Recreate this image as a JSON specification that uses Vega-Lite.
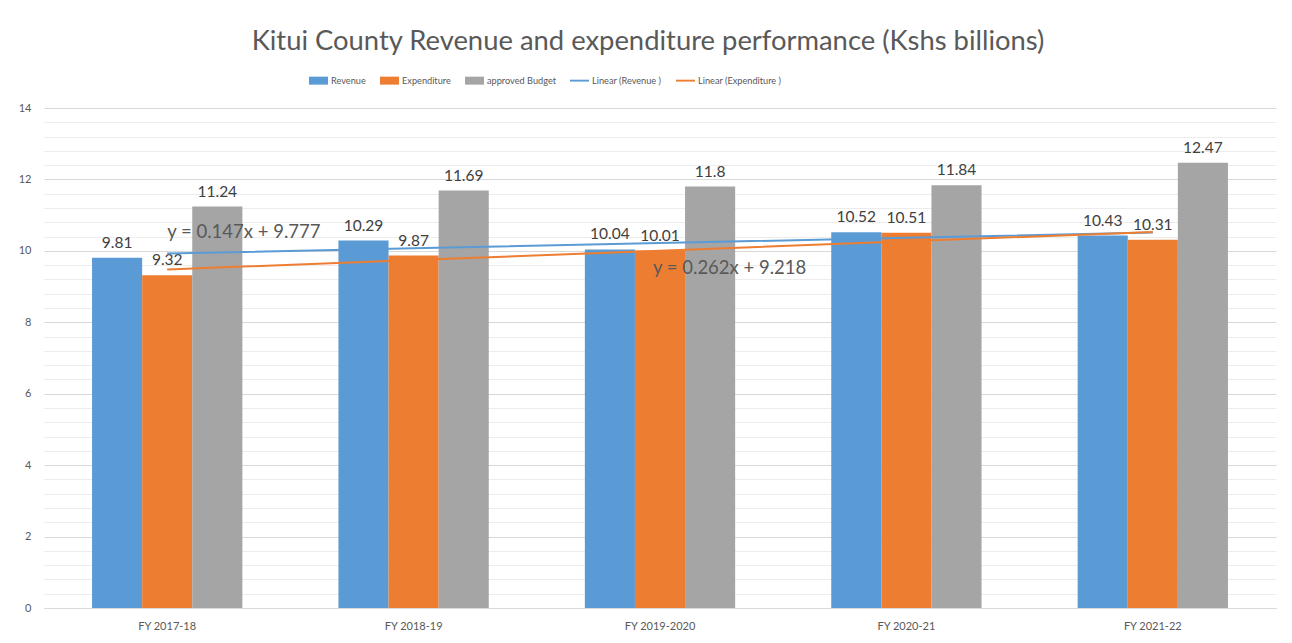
{
  "$schema": "https://vega.github.io/schema/vega-lite/v6.json",
  "autosize": {"type": "none"},
  "width": 1232,
  "height": 500,
  "padding": {"left": 44, "top": 108, "right": 16, "bottom": 35},
  "background": "white",
  "title": {
    "text": "Kitui County Revenue and expenditure performance (Kshs billions)",
    "font": "Lato",
    "fontSize": 27.4,
    "fontWeight": "normal",
    "color": "#595959",
    "anchor": "middle",
    "offset": 16,
    "dx": -12
  },
  "datasets": {
    "bars": [
      {"year": "FY 2017-18", "series": "Revenue", "value": 9.81},
      {"year": "FY 2017-18", "series": "Expenditure", "value": 9.32},
      {"year": "FY 2017-18", "series": "approved Budget", "value": 11.24},
      {"year": "FY 2018-19", "series": "Revenue", "value": 10.29},
      {"year": "FY 2018-19", "series": "Expenditure", "value": 9.87},
      {"year": "FY 2018-19", "series": "approved Budget", "value": 11.69},
      {"year": "FY 2019-2020", "series": "Revenue", "value": 10.04},
      {"year": "FY 2019-2020", "series": "Expenditure", "value": 10.01},
      {"year": "FY 2019-2020", "series": "approved Budget", "value": 11.8},
      {"year": "FY 2020-21", "series": "Revenue", "value": 10.52},
      {"year": "FY 2020-21", "series": "Expenditure", "value": 10.51},
      {"year": "FY 2020-21", "series": "approved Budget", "value": 11.84},
      {"year": "FY 2021-22", "series": "Revenue", "value": 10.43},
      {"year": "FY 2021-22", "series": "Expenditure", "value": 10.31},
      {"year": "FY 2021-22", "series": "approved Budget", "value": 12.47}
    ],
    "trend": [
      {"year": "FY 2017-18", "series": "Linear (Revenue )", "value": 9.924},
      {"year": "FY 2018-19", "series": "Linear (Revenue )", "value": 10.071},
      {"year": "FY 2019-2020", "series": "Linear (Revenue )", "value": 10.218},
      {"year": "FY 2020-21", "series": "Linear (Revenue )", "value": 10.365},
      {"year": "FY 2021-22", "series": "Linear (Revenue )", "value": 10.512},
      {"year": "FY 2017-18", "series": "Linear (Expenditure )", "value": 9.48},
      {"year": "FY 2018-19", "series": "Linear (Expenditure )", "value": 9.742},
      {"year": "FY 2019-2020", "series": "Linear (Expenditure )", "value": 10.004},
      {"year": "FY 2020-21", "series": "Linear (Expenditure )", "value": 10.266},
      {"year": "FY 2021-22", "series": "Linear (Expenditure )", "value": 10.528}
    ],
    "eqRev": [{"year": "FY 2017-18", "value": 10.53, "eq": "y = 0.147x + 9.777"}],
    "eqExp": [{"year": "FY 2019-2020", "value": 9.52, "eq": "y = 0.262x + 9.218"}]
  },
  "config": {
    "view": {"stroke": null},
    "font": "Lato",
    "axis": {"labelFont": "Lato", "labelColor": "#595959", "labelFontSize": 11, "ticks": false, "title": null}
  },
  "encoding": {
    "x": {
      "field": "year",
      "type": "nominal",
      "sort": null,
      "scale": {"paddingInner": 0.39, "paddingOuter": 0.195},
      "axis": {"labelAngle": 0, "domainColor": "#d9d9d9", "domainWidth": 1, "labelPadding": 12, "grid": false}
    }
  },
  "layer": [
    {
      "data": {"name": "bars"},
      "mark": {"type": "bar"},
      "encoding": {
        "xOffset": {"field": "series", "type": "nominal", "sort": ["Revenue", "Expenditure", "approved Budget"], "scale": {"paddingInner": 0, "paddingOuter": 0}},
        "y": {
          "field": "value",
          "type": "quantitative",
          "scale": {"domain": [0, 14], "nice": false, "zero": true},
          "axis": {
            "values": [0, 0.4, 0.8, 1.2, 1.6, 2, 2.4, 2.8, 3.2, 3.6, 4, 4.4, 4.8, 5.2, 5.6, 6, 6.4, 6.8, 7.2, 7.6, 8, 8.4, 8.8, 9.2, 9.6, 10, 10.4, 10.8, 11.2, 11.6, 12, 12.4, 12.8, 13.2, 13.6, 14],
            "tickCount": 60,
            "labelExpr": "datum.value % 2 === 0 ? format(datum.value, 'd') : ''",
            "labelOverlap": false,
            "labelBound": false,
            "domain": false,
            "grid": true,
            "gridColor": {"condition": {"test": "datum.value % 2 === 0", "value": "#d9d9d9"}, "value": "#ececec"},
            "gridWidth": 1,
            "labelPadding": 13
          }
        },
        "color": {
          "field": "series",
          "type": "nominal",
          "scale": {
            "domain": ["Revenue", "Expenditure", "approved Budget", "Linear (Revenue )", "Linear (Expenditure )"],
            "range": ["#5B9BD5", "#ED7D31", "#A5A5A5", "#5B9BD5", "#ED7D31"]
          },
          "legend": {
            "title": null,
            "orient": "none",
            "direction": "horizontal",
            "legendX": 265,
            "legendY": -37,
            "labelFont": "Lato",
            "labelFontSize": 9.2,
            "labelColor": "#595959",
            "labelOffset": 3,
            "columnPadding": 14,
            "symbolSize": 361,
            "encode": {
              "symbols": {
                "update": {
                  "shape": {"signal": "indexof(datum.value, 'Linear') === 0 ? 'M-1,-0.1H1V0.1H-1Z' : 'M-1,-0.42H1V0.42H-1Z'"},
                  "fill": {"scale": "color", "field": "value"},
                  "stroke": {"value": "transparent"},
                  "strokeWidth": {"value": 0},
                  "opacity": {"value": 1}
                }
              }
            }
          }
        }
      }
    },
    {
      "data": {"name": "bars"},
      "mark": {"type": "text", "baseline": "bottom", "dy": -7, "font": "Lato", "fontSize": 15.5, "color": "#404040"},
      "encoding": {
        "xOffset": {"field": "series", "type": "nominal", "sort": ["Revenue", "Expenditure", "approved Budget"], "scale": {"paddingInner": 0, "paddingOuter": 0}},
        "y": {"field": "value", "type": "quantitative"},
        "text": {"field": "value", "type": "nominal"}
      }
    },
    {
      "data": {"name": "trend"},
      "mark": {"type": "line", "strokeWidth": 2},
      "encoding": {
        "y": {"field": "value", "type": "quantitative"},
        "color": {"field": "series", "type": "nominal"}
      }
    },
    {
      "data": {"name": "eqRev"},
      "mark": {"type": "text", "align": "left", "baseline": "middle", "dx": 0, "font": "Lato", "fontSize": 18.5, "color": "#595959"},
      "encoding": {
        "y": {"field": "value", "type": "quantitative"},
        "text": {"field": "eq", "type": "nominal"}
      }
    },
    {
      "data": {"name": "eqExp"},
      "mark": {"type": "text", "align": "left", "baseline": "middle", "dx": -7, "font": "Lato", "fontSize": 18.5, "color": "#595959"},
      "encoding": {
        "y": {"field": "value", "type": "quantitative"},
        "text": {"field": "eq", "type": "nominal"}
      }
    }
  ]
}
